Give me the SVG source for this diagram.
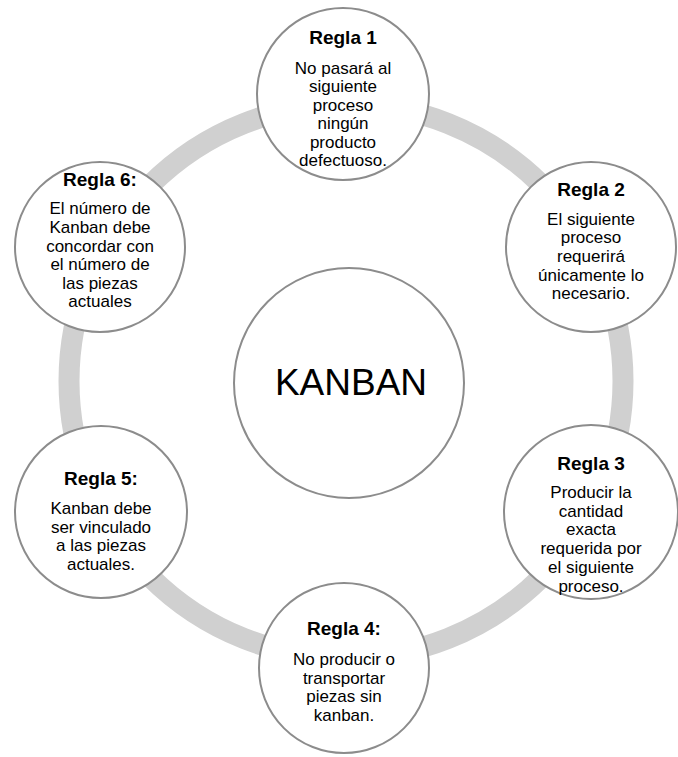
<svg xmlns="http://www.w3.org/2000/svg" width="678" height="757" viewBox="0 0 678 757">
  <style>
    .disc { fill: #ffffff; stroke: #8c8c8c; stroke-width: 2; }
    .ring { fill: none; stroke: #d0d0d0; stroke-width: 21; }
    .title { font-family: "Liberation Sans", Arial, sans-serif; font-size: 19px; font-weight: bold; text-anchor: middle; fill: #000000; }
    .body { font-family: "Liberation Sans", Arial, sans-serif; font-size: 17px; text-anchor: middle; fill: #000000; }
    .hub { font-family: "Liberation Sans", Arial, sans-serif; font-size: 37px; text-anchor: middle; fill: #000000; }
  </style>
  <rect width="678" height="757" fill="#ffffff"/>

  <!-- cycle ring joining the six rules -->
  <g id="connectors">
    <circle class="ring" cx="346" cy="381" r="277"/>
  </g>

  <g id="hub">
    <circle class="disc" cx="349" cy="383" r="115"/>
    <text class="hub" x="351" y="395">KANBAN</text>
  </g>

  <g id="regla1">
    <circle class="disc" cx="343" cy="94" r="86"/>
    <text class="title" x="343" y="44">Regla 1</text>
    <text class="body" x="343" y="74">No pasará al</text>
    <text class="body" x="343" y="92.4">siguiente</text>
    <text class="body" x="343" y="110.8">proceso</text>
    <text class="body" x="343" y="129.2">ningún</text>
    <text class="body" x="343" y="147.6">producto</text>
    <text class="body" x="343" y="166">defectuoso.</text>
  </g>

  <g id="regla2">
    <circle class="disc" cx="591" cy="247" r="85"/>
    <text class="title" x="591" y="196">Regla 2</text>
    <text class="body" x="591" y="224.5">El siguiente</text>
    <text class="body" x="591" y="243.2">proceso</text>
    <text class="body" x="591" y="261.9">requerirá</text>
    <text class="body" x="591" y="280.6">únicamente lo</text>
    <text class="body" x="591" y="299.3">necesario.</text>
  </g>

  <g id="regla3">
    <circle class="disc" cx="591" cy="512" r="87"/>
    <text class="title" x="591" y="470">Regla 3</text>
    <text class="body" x="591" y="498">Producir la</text>
    <text class="body" x="591" y="516.7">cantidad</text>
    <text class="body" x="591" y="535.4">exacta</text>
    <text class="body" x="591" y="554.1">requerida por</text>
    <text class="body" x="591" y="572.8">el siguiente</text>
    <text class="body" x="591" y="591.5">proceso.</text>
  </g>

  <g id="regla4">
    <circle class="disc" cx="344" cy="668" r="85"/>
    <text class="title" x="344" y="635">Regla 4:</text>
    <text class="body" x="344" y="665">No producir o</text>
    <text class="body" x="344" y="683.5">transportar</text>
    <text class="body" x="344" y="702">piezas sin</text>
    <text class="body" x="344" y="720.5">kanban.</text>
  </g>

  <g id="regla5">
    <circle class="disc" cx="101" cy="512" r="86"/>
    <text class="title" x="101" y="485">Regla 5:</text>
    <text class="body" x="101" y="514">Kanban debe</text>
    <text class="body" x="101" y="532.7">ser vinculado</text>
    <text class="body" x="101" y="551.4">a las piezas</text>
    <text class="body" x="101" y="570.1">actuales.</text>
  </g>

  <g id="regla6">
    <circle class="disc" cx="100" cy="247" r="85"/>
    <text class="title" x="100" y="186">Regla 6:</text>
    <text class="body" x="100" y="214.3">El número de</text>
    <text class="body" x="100" y="232.9">Kanban debe</text>
    <text class="body" x="100" y="251.5">concordar con</text>
    <text class="body" x="100" y="270.1">el número de</text>
    <text class="body" x="100" y="288.7">las piezas</text>
    <text class="body" x="100" y="307.3">actuales</text>
  </g>
</svg>
